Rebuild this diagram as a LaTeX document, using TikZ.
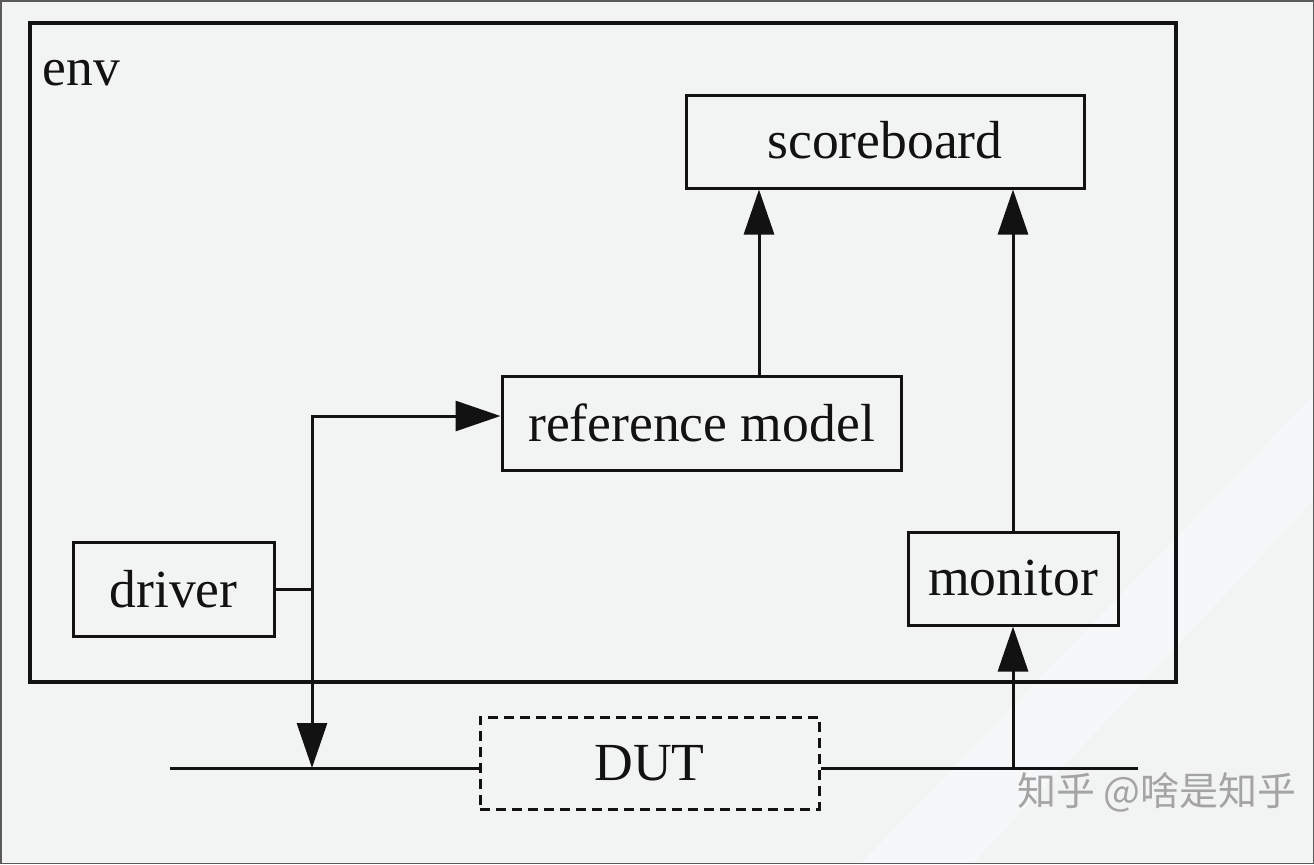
\documentclass[tikz,border=0pt]{standalone}
\usepackage{fontspec}
\setmainfont{Liberation Serif}
\newfontfamily\cjk{Noto Sans CJK SC}
\usetikzlibrary{arrows.meta,calc}
\definecolor{bgc}{HTML}{F2F3F3}
\definecolor{bandc}{HTML}{F5F7F9}
\definecolor{ink}{HTML}{121212}
\definecolor{wmc}{HTML}{A4A4A4}
\begin{document}
\begin{tikzpicture}[x=0.5pt,y=-0.5pt,
  line width=1.5pt, draw=ink,
  box/.style={draw=ink, line width=1.5pt, rectangle, inner sep=0pt, text=ink,
    font=\fontsize{26.8pt}{32pt}\selectfont},
  arr/.style={draw=ink, line width=1.5pt, -{Triangle[length=22.5pt,width=15pt]}},
  wire/.style={draw=ink, line width=1.5pt}]
\useasboundingbox (0,0) rectangle (1314,864);
\fill[bgc] (0,0) rectangle (1314,864);
\fill[bandc] (1314,395) -- (1314,500) -- (972,864) -- (860,864) -- cycle;
\draw[draw=black!65, line width=0.75pt] (0.75,0.75) rectangle (1313.25,863.25);

% env container
\node[box, line width=1.7pt, minimum width=573pt, minimum height=329.5pt] (env) at (603,352.5) {};
\node[anchor=base west, inner sep=0pt, text=ink, font=\fontsize{26.8pt}{32pt}\selectfont] (envlbl) at (41,85) {env};

% components
\node[box, minimum width=199pt, minimum height=46.5pt] (sb) at (885,141.5) {\raisebox{1.5pt}{scoreboard}};
\node[box, minimum width=199.5pt, minimum height=47pt] (ref) at (701.5,423) {reference model};
\node[box, minimum width=100.5pt, minimum height=47pt] (drv) at (173.5,589) {driver};
\node[box, minimum width=105pt, minimum height=46.5pt] (mon) at (1013,578.5) {monitor};
\node[box, dash pattern=on 5pt off 3pt, minimum width=169.5pt, minimum height=46pt] (dut) at (649.5,763) {DUT};

% coordinates
\coordinate (j) at (312,589);
\coordinate (ax) at (759,0);
\coordinate (busL) at (170,768);
\coordinate (busR) at (1138,768);

% connectors
\draw[wire] (drv.east) -- (j);
\draw[arr] (j) |- ([yshift=3.5pt]ref.west);
\draw[arr] (j) -- (j |- busL);
\draw[arr] (ax |- ref.north) -- (ax |- sb.south);
\draw[arr] (mon.north) -- (mon.north |- sb.south);
\draw[wire] (busL) -- (dut.west |- busL);
\draw[wire] (dut.east |- busR) -- (busR);
\draw[arr] (mon.south |- busR) -- (mon.south);

% watermark
\node[inner sep=0pt, text=wmc, font=\cjk\fontsize{19.5pt}{22pt}\selectfont] (wm) at (1157,792) {知乎 @啥是知乎};
\end{tikzpicture}
\end{document}
